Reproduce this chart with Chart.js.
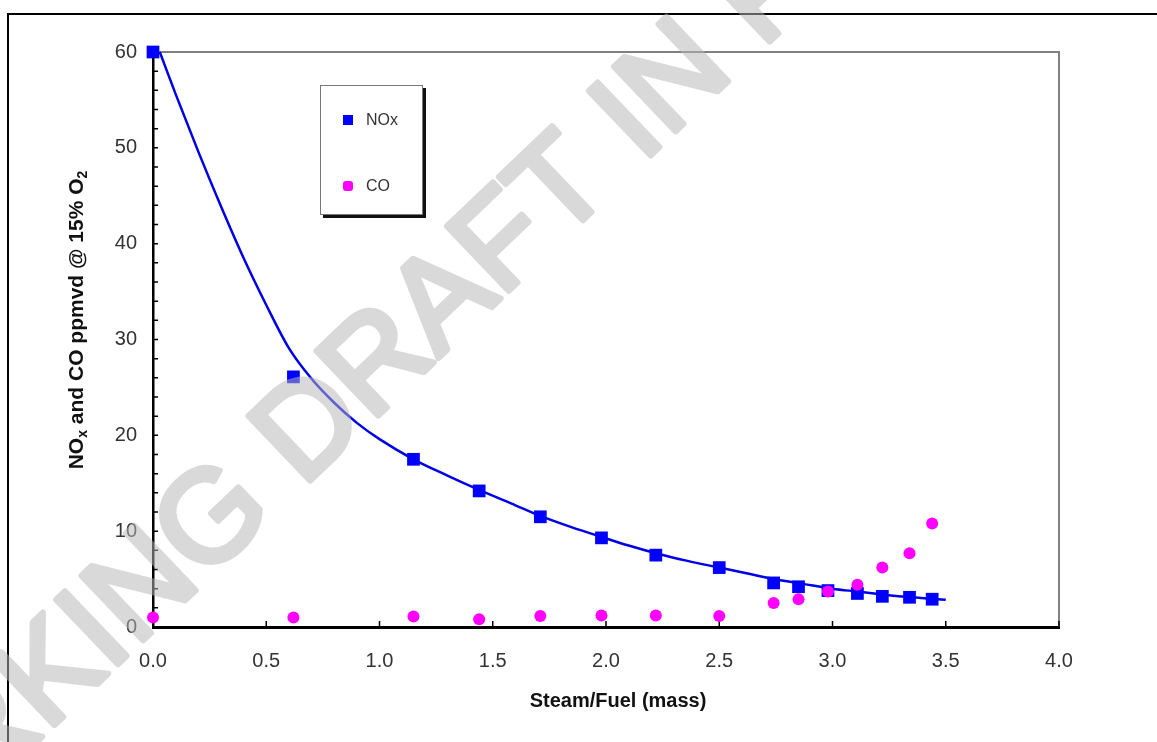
<!DOCTYPE html>
<html>
<head>
<meta charset="utf-8">
<title>NOx and CO vs Steam/Fuel</title>
<script src="https://cdn.jsdelivr.net/npm/chart.js@4.4.1/dist/chart.umd.min.js"></script>
<style>
  body { margin: 0; background: #fff; font-family: "Liberation Sans", Arial, sans-serif; }
  #wrap { position: relative; width: 1157px; height: 742px; }
  #legend {
    position: absolute; left: 320px; top: 85px; width: 101px; height: 128px;
    border: 1px solid #777; box-shadow: 3px 3px 0 #111; background: #fff;
  }
  .item { position: absolute; left: 0; height: 20px; line-height: 20px; font-size: 16px; color: #333; }
  .mark { position: absolute; left: 22px; top: 5px; width: 10px; height: 10px; }
  .item span { position: absolute; left: 45px; white-space: nowrap; }
</style>
</head>
<body>
<div id="wrap">
  <canvas id="chart"></canvas>
  <div id="legend"></div>
</div>
<script>
// data
const steamFuel = [0.00, 0.62, 1.15, 1.44, 1.71, 1.98, 2.22, 2.50, 2.74, 2.85, 2.98, 3.11, 3.22, 3.34, 3.44];
const noxValues = [60.0, 26.1, 17.5, 14.2, 11.5, 9.3, 7.5, 6.2, 4.6, 4.2, 3.8, 3.5, 3.2, 3.1, 2.9];
const coValues = [1.0, 1.0, 1.1, 0.8, 1.15, 1.2, 1.2, 1.15, 2.5, 2.9, 3.7, 4.4, 6.2, 7.7, 10.8];

// NOx trend curve
const fitX = [0.03, 0.1, 0.2, 0.3, 0.4, 0.5, 0.6, 0.7, 0.8, 0.9, 1.0, 1.15, 1.3, 1.44, 1.6, 1.71, 1.85, 1.98, 2.1, 2.22, 2.36, 2.5, 2.62, 2.74, 2.87, 3.0, 3.11, 3.22, 3.35, 3.5];
const fitY = [60.0, 55.6, 49.6, 43.9, 38.5, 33.6, 29.1, 25.9, 23.4, 21.3, 19.6, 17.5, 15.8, 14.3, 12.7, 11.6, 10.4, 9.4, 8.5, 7.7, 6.9, 6.2, 5.6, 5.0, 4.5, 4.0, 3.7, 3.4, 3.1, 2.85];

const xTickLabels = ["0.0", "0.5", "1.0", "1.5", "2.0", "2.5", "3.0", "3.5", "4.0"];
const yTickLabels = [0, 10, 20, 30, 40, 50, 60];

const FONT = '"Liberation Sans", Arial, sans-serif';

function toPoints(xs, ys) {
  return xs.map((x, i) => ({ x: x, y: ys[i] }));
}

// draws text made of pieces (for subscripts), centred on cx,cy
function drawRich(ctx, parts, cx, cy, rot) {
  ctx.save();
  ctx.translate(cx, cy);
  ctx.rotate(rot);
  ctx.textBaseline = "alphabetic";
  ctx.fillStyle = "#111";
  let total = 0;
  parts.forEach(p => {
    ctx.font = "bold " + p.size + "px " + FONT;
    p.w = ctx.measureText(p.t).width;
    total += p.w;
  });
  let x = -total / 2;
  parts.forEach(p => {
    ctx.font = "bold " + p.size + "px " + FONT;
    ctx.fillText(p.t, x, p.shift || 0);
    x += p.w;
  });
  ctx.restore();
}

const decorPlugin = {
  id: "decor",
  beforeDraw(chart) {
    const ctx = chart.ctx;
    ctx.save();
    ctx.fillStyle = "#fff";
    ctx.fillRect(0, 0, chart.width, chart.height);
    // outer frame (left and top only)
    ctx.strokeStyle = "#000";
    ctx.lineWidth = 2;
    ctx.beginPath();
    ctx.moveTo(8, chart.height);
    ctx.lineTo(8, 14);
    ctx.lineTo(chart.width, 14);
    ctx.stroke();
    ctx.restore();
  },
  beforeDatasetsDraw(chart) {
    const ctx = chart.ctx;
    const a = chart.chartArea;
    const xs = chart.scales.x, ys = chart.scales.y;
    ctx.save();
    // top and right frame of plot
    ctx.strokeStyle = "#808080";
    ctx.lineWidth = 2;
    ctx.beginPath();
    ctx.moveTo(a.left, a.top);
    ctx.lineTo(a.right, a.top);
    ctx.lineTo(a.right, a.bottom);
    ctx.stroke();
    // inward tick marks
    ctx.strokeStyle = "#000";
    ctx.lineWidth = 1.5;
    ctx.beginPath();
    ys.ticks.forEach(t => {
      const py = ys.getPixelForValue(t.value);
      ctx.moveTo(a.left, py);
      ctx.lineTo(a.left + 5, py);
    });
    xs.ticks.forEach(t => {
      const px = xs.getPixelForValue(t.value);
      ctx.moveTo(px, a.bottom);
      ctx.lineTo(px, a.bottom - 6);
    });
    ctx.stroke();
    ctx.restore();
  },
  afterDraw(chart) {
    const ctx = chart.ctx;
    const a = chart.chartArea;
    // axis titles
    drawRich(ctx, [
      { t: "NO", size: 21 },
      { t: "x", size: 14, shift: 4 },
      { t: " and CO ppmvd @ 15% O", size: 21 },
      { t: "2", size: 14, shift: 4 }
    ], 83, 320, -Math.PI / 2);
    drawRich(ctx, [{ t: "Steam/Fuel (mass)", size: 20 }], (a.left + a.right) / 2 + 12, 707, 0);

    // watermark: drawn opaque on a layer, then laid over semi-transparent
    const layer = document.createElement("canvas");
    layer.width = chart.width;
    layer.height = chart.height;
    const lc = layer.getContext("2d");
    lc.translate(-183, 952);
    lc.rotate(-43.7 * Math.PI / 180);
    lc.font = "130px " + FONT;
    lc.fillStyle = "#b7b7b7";
    lc.strokeStyle = "#b7b7b7";
    lc.lineWidth = 6;
    lc.lineJoin = "round";
    lc.fillText("WORKING DRAFT IN PROGRESS", 0, 0);
    lc.strokeText("WORKING DRAFT IN PROGRESS", 0, 0);
    ctx.save();
    ctx.globalAlpha = 0.52;
    ctx.drawImage(layer, 0, 0);
    ctx.restore();
  }
};

const chart = new Chart(document.getElementById("chart"), {
  type: "scatter",
  data: {
    datasets: [
      {
        label: "CO",
        data: toPoints(steamFuel, coValues),
        pointStyle: "circle",
        pointRadius: 6,
        pointBackgroundColor: "#ff00ff",
        pointBorderWidth: 0,
        borderColor: "#ff00ff",
        backgroundColor: "#ff00ff",
        clip: false,
        order: 0
      },
      {
        label: "NOx",
        data: toPoints(steamFuel, noxValues),
        pointStyle: "rect",
        pointRadius: 9,
        pointBackgroundColor: "#0000ff",
        pointBorderWidth: 0,
        borderColor: "#0000ff",
        backgroundColor: "#0000ff",
        clip: false,
        order: 1
      },
      {
        label: "",
        data: toPoints(fitX, fitY),
        showLine: true,
        cubicInterpolationMode: "monotone",
        pointRadius: 0,
        borderColor: "#0000e6",
        borderWidth: 2.5,
        clip: false,
        order: 2
      }
    ]
  },
  options: {
    responsive: true,
    maintainAspectRatio: false,
    animation: false,
    layout: { padding: { top: 52, right: 98, left: 0, bottom: 0 } },
    plugins: {
      legend: { display: false },
      tooltip: { enabled: false }
    },
    scales: {
      x: {
        type: "linear",
        min: 0,
        max: 4,
        grid: { display: false },
        border: { display: true, color: "#000", width: 3 },
        ticks: {
          stepSize: 0.5,
          padding: 14,
          color: "#333",
          font: { family: FONT, size: 20 },
          callback: (v, i) => xTickLabels[i]
        },
        afterFit: s => { s.height = 115; }
      },
      y: {
        min: 0,
        max: 60,
        grid: { display: false },
        border: { display: true, color: "#000", width: 2.5 },
        ticks: {
          stepSize: 2,
          autoSkip: false,
          padding: 8,
          color: "#333",
          font: { family: FONT, size: 20 },
          callback: v => yTickLabels.includes(v) ? String(v) : ""
        },
        afterFit: s => { s.width = 153; }
      }
    }
  },
  plugins: [decorPlugin]
});

// legend box built from the dataset labels
const legend = document.getElementById("legend");
const legendTops = { NOx: 24, CO: 90 };
chart.data.datasets.filter(d => d.label).reverse().forEach(d => {
  const item = document.createElement("div");
  item.className = "item";
  item.style.top = legendTops[d.label] + "px";
  item.innerHTML = '<div class="mark" style="background:' + d.backgroundColor +
    (d.pointStyle === "circle" ? ';border-radius:3px' : '') + '"></div><span>' + d.label + '</span>';
  legend.appendChild(item);
});
</script>
</body>
</html>
